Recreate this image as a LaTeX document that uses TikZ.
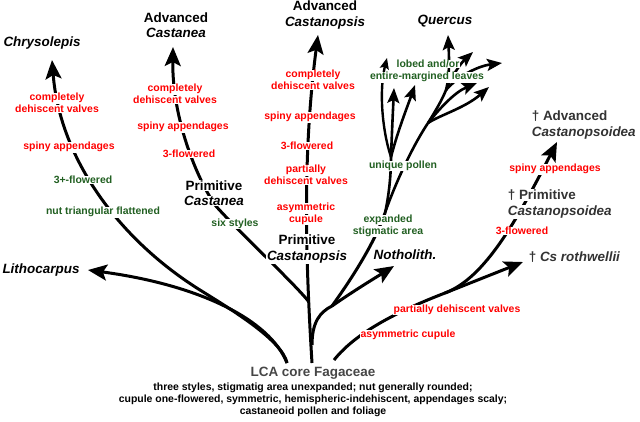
\documentclass[tikz,border=0pt]{standalone}
\usepackage{fontspec}
\setmainfont{Liberation Sans}
\usetikzlibrary{arrows.meta}
\definecolor{grn}{RGB}{34,96,34}
\definecolor{rd}{RGB}{255,0,0}
\definecolor{dg}{RGB}{51,51,51}
\definecolor{lg}{RGB}{70,70,70}
\newcommand\wb[1]{\colorbox{white}{#1}}
\setlength\fboxsep{0.6pt}
\begin{document}
\begin{tikzpicture}[x=1bp,y=-1bp,
  arr/.style={line width=3bp,-{Stealth[length=19bp,width=16bp,inset=4bp]}},
  arrs/.style={line width=2.6bp,-{Stealth[length=15bp,width=12bp,inset=3bp]}},
  arrxs/.style={line width=2.4bp,-{Stealth[length=11bp,width=9bp,inset=2bp]}},
  ln/.style={line width=3bp},
  lns/.style={line width=2.6bp},
  big/.style={font=\fontsize{13.5}{15.5}\selectfont\bfseries, inner sep=0pt, align=center},
  sm/.style={font=\fontsize{10.5}{12}\selectfont\bfseries, inner sep=0pt, align=center},
  rl/.style={sm, text=rd},
  gl/.style={sm, text=grn}]
\fill[white] (0,0) rectangle (640,421);
\useasboundingbox (0,0) rectangle (640,421);
% base and junction coordinates
\coordinate (bL) at (287,363);
\coordinate (bC) at (312,363);
\coordinate (bR) at (334,360);
\coordinate (litT) at (88,270);
\coordinate (chJ) at (200,290);
\coordinate (chT) at (52,60);
\coordinate (csT) at (318,35);
\coordinate (caJ) at (309,302);
\coordinate (caM) at (215,205);
\coordinate (caT) at (173,47);
\coordinate (nJ) at (312,345);
\coordinate (qJ) at (332,306);
\coordinate (noT) at (394,266);
\coordinate (qV) at (385,213);
\coordinate (qL) at (391,157);
\coordinate (qR) at (428,123);
\coordinate (qS) at (446,90);
\coordinate (qa) at (387,58);
\coordinate (qb) at (394,88);
\coordinate (qc) at (415,85);
\coordinate (qM) at (448,35);
\coordinate (qe) at (473,52);
\coordinate (qf) at (502,63);
\coordinate (qg) at (477,83);
\coordinate (qh) at (489,87);
\coordinate (coJ) at (445,293);
\coordinate (crT) at (523,262);
\coordinate (coT) at (557,142);
% lines
\draw[arr] (bL) .. controls (270,320) and (200,285) .. (litT);
\draw[arr] (bL) .. controls (282,340) and (232,310) .. (chJ) .. controls (120,240) and (60,160) .. (chT);
\draw[arr] (bC) .. controls (305,250) and (303,150) .. (csT);
\draw[arr] (caJ) .. controls (296,285) and (235,228) .. (caM) .. controls (198,180) and (172,120) .. (caT);
\draw[arr] (nJ) .. controls (312,322) and (320,312) .. (qJ) .. controls (355,290) and (375,278) .. (noT);
\draw[ln] (qJ) .. controls (342,292) and (372,250) .. (qV);
\draw[lns] (qV) .. controls (389,195) and (391,175) .. (qL);
\draw[lns] (qV) .. controls (392,192) and (410,150) .. (qR);
\draw[arrxs] (qL) .. controls (382,130) and (379,90) .. (qa);
\draw[arrs] (qL) .. controls (392,130) and (393,110) .. (qb);
\draw[arrs] (qL) .. controls (398,130) and (408,105) .. (qc);
\draw[arrs] (qR) .. controls (436,110) and (442,100) .. (qS) .. controls (450,75) and (449,55) .. (qM);
\draw[arrs] (qS) .. controls (452,75) and (462,62) .. (qe);
\draw[arrs] (qS) .. controls (458,76) and (478,66) .. (qf);
\draw[arrs] (qR) .. controls (440,108) and (455,92) .. (qg);
\draw[arrs] (qR) .. controls (440,115) and (465,108) .. (qh);
\draw[arr] (bR) .. controls (350,340) and (380,318) .. (coJ) -- (crT);
\draw[arr] (coJ) .. controls (485,278) and (517,220) .. (coT);
% black labels
\node[big] (chry) at (42,43) {\wb{\textit{Chrysolepis}}};
\node[big] (advca) at (176,25) {\wb{Advanced}\\\wb{\textit{Castanea}}};
\node[big] (advcs) at (325,15) {\wb{Advanced}\\\wb{\textit{Castanopsis}}};
\node[big] (querc) at (445,21) {\wb{\textit{Quercus}}};
\node[big, text=dg, anchor=west, align=left] (advco) at (531,125) {\wb{† Advanced}\\\wb{\textit{Castanopsoidea}}};
\node[big, text=dg, anchor=west, align=left] (prico) at (507,204) {\wb{† Primitive}\\\wb{\textit{Castanopsoidea}}};
\node[big, text=dg, anchor=west] (csr) at (528,257) {\wb{† \textit{Cs rothwellii}}};
\node[big] (litho) at (41,270) {\wb{\textit{Lithocarpus}}};
\node[big] (prica) at (214,193) {\wb{Primitive}\\\wb{\textit{Castanea}}};
\node[big] (pricas) at (307,249) {\wb{Primitive}\\\wb{\textit{Castanopsis}}};
\node[big] (notho) at (405,255) {\wb{\textit{Notholith.}}};
\node[big, text=lg] (lca) at (313,373) {LCA core Fagaceae};
\node[sm] (desc) at (313,400) {three styles, stigmatig area unexpanded; nut generally rounded;\\cupule one-flowered, symmetric, hemispheric-indehiscent, appendages scaly;\\castaneoid pollen and foliage};
% Chrysolepis line labels
\node[rl] (r1) at (57,103) {\wb{completely}\\\wb{dehiscent valves}};
\node[rl] (r2) at (69,147) {\wb{spiny appendages}};
\node[gl] (g1) at (83,180) {\wb{3+-flowered}};
\node[gl] (g2) at (103,212) {\wb{nut triangular flattened}};
% Castanea line labels
\node[rl] (r3) at (175,94) {\wb{completely}\\\wb{dehiscent valves}};
\node[rl] (r4) at (183,127) {\wb{spiny appendages}};
\node[rl] (r5) at (189,154) {\wb{3-flowered}};
\node[gl] (g3) at (235,224) {\wb{six styles}};
% Castanopsis line labels
\node[rl] (r6) at (313,80) {\wb{completely}\\\wb{dehiscent valves}};
\node[rl] (r7) at (310,117) {\wb{spiny appendages}};
\node[rl] (r8) at (307,146) {\wb{3-flowered}};
\node[rl] (r9) at (306,175) {\wb{partially}\\\wb{dehiscent valves}};
\node[rl] (r10) at (306,214) {\wb{asymmetric}\\\wb{cupule}};
% Quercus labels
\node[gl] (g4) at (388,226) {\wb{expanded}\\\wb{stigmatic area}};
\node[gl] (g5) at (403,166) {\wb{unique pollen}};
\node[gl] (g6) at (428,64) {\wb{lobed and/or}};
\node[gl] (g7) at (427,77) {\wb{entire-margined leaves}};
% Castanopsoidea labels
\node[rl] (r11) at (555,169) {\wb{spiny appendages}};
\node[rl] (r12) at (522,231) {\wb{3-flowered}};
\node[rl] (r13) at (457,310) {\wb{partially dehiscent valves}};
\node[rl] (r14) at (408,335) {\wb{asymmetric cupule}};
\end{tikzpicture}
\end{document}
